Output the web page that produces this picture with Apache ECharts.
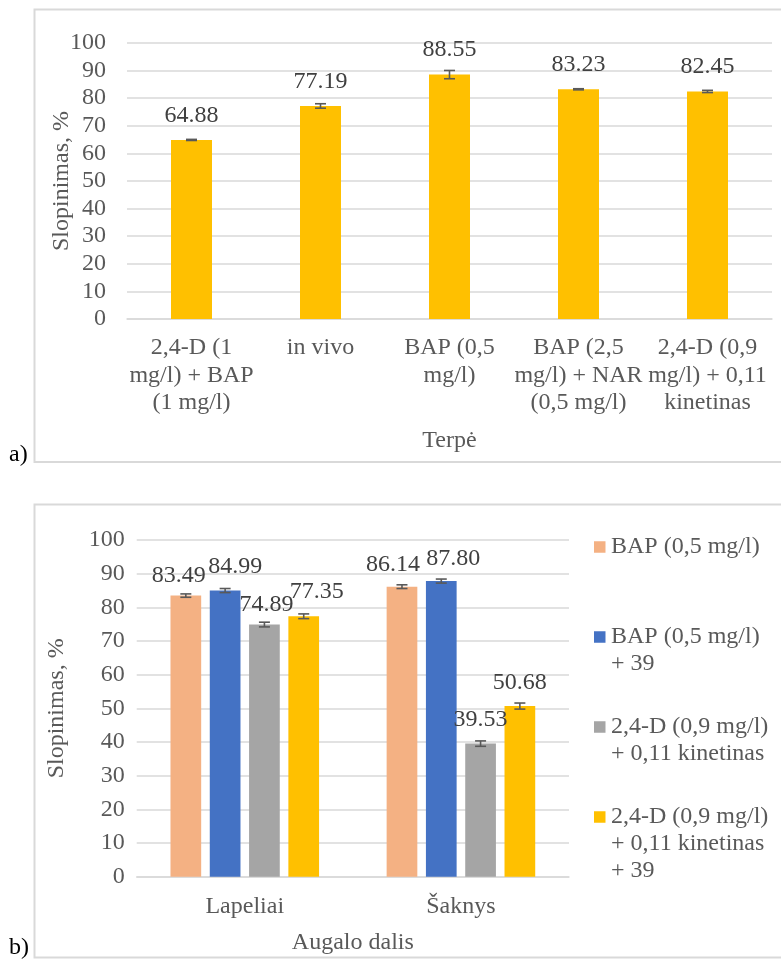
<!DOCTYPE html>
<html>
<head>
<meta charset="utf-8">
<script src="https://cdn.jsdelivr.net/npm/echarts@6/dist/echarts.min.js"></script>
<style>
  html, body { margin: 0; padding: 0; background: #fff; }
  #chart { width: 781px; height: 961px; }
</style>
</head>
<body>
<div id="chart"></div>
<script>
// (a) inhibition by culture medium
const categoriesA = [
  '2,4-D (1\nmg/l) + BAP\n(1 mg/l)',
  'in vivo',
  'BAP (0,5\nmg/l)',
  'BAP (2,5\nmg/l) + NAR\n(0,5 mg/l)',
  '2,4-D (0,9\nmg/l) + 0,11\nkinetinas'
];
const valuesA = [64.88, 77.19, 88.55, 83.23, 82.45];
const errorsA = [0.2, 0.8, 1.5, 0.2, 0.4];

// (b) inhibition by plant part
const categoriesB = ['Lapeliai', 'Šaknys'];
const seriesNamesB = [
  'BAP (0,5 mg/l)',
  'BAP (0,5 mg/l)\n+ 39',
  '2,4-D (0,9 mg/l)\n+ 0,11 kinetinas',
  '2,4-D (0,9 mg/l)\n+ 0,11 kinetinas\n+ 39'
];
const bapValues = [83.49, 86.14];
const bap39Values = [84.99, 87.80];
const dKinValues = [74.89, 39.53];
const dKin39Values = [77.35, 50.68];
const bapErrors = [0.5, 0.55];
const bap39Errors = [0.6, 0.6];
const dKinErrors = [0.7, 0.8];
const dKin39Errors = [0.7, 0.9];

const valuesB = [bapValues, bap39Values, dKinValues, dKin39Values];
const errorsB = [bapErrors, bap39Errors, dKinErrors, dKin39Errors];
const colorsB = ['#F4B183', '#4472C4', '#A5A5A5', '#FFC000'];

// label nudges so neighbouring value labels do not collide
const labelNudgeB = [
  [[-7, 2], [-9, 0]],
  [[10, -2], [12, 0]],
  [[2, 2.5], [0, -1.6]],
  [[13, -2.6], [0, -1.4]]
];

const FONT = '"Liberation Serif", "Times New Roman", serif';
const AXIS_TEXT = '#595959';
const GRID_LINE = '#D9D9D9';
const ERR_COLOR = '#595959';
const BAR_W_B = 30.7;
const BAR_GAP_B = 0.28;

function errorBarRenderer(offset) {
  return function (params, api) {
    const cat = api.value(0);
    const lo = api.coord([cat, api.value(1)]);
    const hi = api.coord([cat, api.value(2)]);
    const x = lo[0] + offset;
    const hw = 5.5;
    const st = { stroke: ERR_COLOR, lineWidth: 1.6 };
    return {
      type: 'group',
      children: [
        { type: 'line', shape: { x1: x, y1: lo[1], x2: x, y2: hi[1] }, style: st },
        { type: 'line', shape: { x1: x - hw, y1: lo[1], x2: x + hw, y2: lo[1] }, style: st },
        { type: 'line', shape: { x1: x - hw, y1: hi[1], x2: x + hw, y2: hi[1] }, style: st }
      ]
    };
  };
}

function valueAxis(gridIndex, margin, nameGap) {
  return {
    type: 'value', gridIndex: gridIndex, min: 0, max: 100, interval: 10,
    name: 'Slopinimas, %', nameLocation: 'middle', nameGap: nameGap, nameRotate: 90,
    nameMoveOverlap: false,
    nameTextStyle: { fontFamily: FONT, fontSize: 24, color: AXIS_TEXT },
    axisLine: { show: false }, axisTick: { show: false },
    axisLabel: { fontFamily: FONT, fontSize: 24, color: AXIS_TEXT, margin: margin },
    splitLine: { lineStyle: { color: GRID_LINE, width: 1.5 } }
  };
}

function categoryAxis(gridIndex, data, name, nameGap, margin, lineHeight) {
  return {
    type: 'category', gridIndex: gridIndex, data: data,
    name: name, nameLocation: 'middle', nameGap: nameGap,
    nameMoveOverlap: false,
    nameTextStyle: { fontFamily: FONT, fontSize: 24, color: AXIS_TEXT, verticalAlign: 'top', lineHeight: 24 },
    axisLine: { lineStyle: { color: GRID_LINE, width: 1.5 } },
    axisTick: { show: false },
    axisLabel: { interval: 0, fontFamily: FONT, fontSize: 24, color: AXIS_TEXT, margin: margin, lineHeight: lineHeight }
  };
}

const series = [];

// chart (a)
series.push({
  type: 'bar', name: 'Terpė', xAxisIndex: 0, yAxisIndex: 0,
  data: valuesA, barWidth: 41,
  itemStyle: { color: '#FFC000' },
  label: { show: true, position: 'top', distance: 12.5, fontFamily: FONT, fontSize: 24, lineHeight: 24, color: '#404040', formatter: p => p.value.toFixed(2) }
});
series.push({
  type: 'custom', xAxisIndex: 0, yAxisIndex: 0, z: 5, silent: true,
  renderItem: errorBarRenderer(0),
  data: valuesA.map((v, i) => [i, v - errorsA[i], v + errorsA[i]])
});

// chart (b)
seriesNamesB.forEach((name, s) => {
  series.push({
    type: 'bar', name: name, xAxisIndex: 1, yAxisIndex: 1,
    barWidth: BAR_W_B, barGap: (BAR_GAP_B * 100) + '%',
    itemStyle: { color: colorsB[s] },
    label: { show: true, position: 'top', distance: 10, fontFamily: FONT, fontSize: 24, lineHeight: 24, color: '#404040', formatter: p => p.value.toFixed(2) },
    data: valuesB[s].map((v, i) => ({ value: v, label: { offset: labelNudgeB[s][i] } }))
  });
});
seriesNamesB.forEach((name, s) => {
  const step = BAR_W_B * (1 + BAR_GAP_B);
  const offset = (s - (seriesNamesB.length - 1) / 2) * step;
  series.push({
    type: 'custom', xAxisIndex: 1, yAxisIndex: 1, z: 5, silent: true,
    renderItem: errorBarRenderer(offset),
    data: valuesB[s].map((v, i) => [i, v - errorsB[s][i], v + errorsB[s][i]])
  });
});

// legend text: coloured square on the first line, following lines indented
const legendRich = {
  t: { fontFamily: FONT, fontSize: 24, lineHeight: 27, color: AXIS_TEXT },
  sp: { width: 5.5 },
  ind: { width: 17 }
};
colorsB.forEach((c, i) => { legendRich['sq' + i] = { width: 11.5, height: 11.5, backgroundColor: c }; });

const chart = echarts.init(document.getElementById('chart'), null, { renderer: 'canvas' });
chart.setOption({
  animation: false,
  backgroundColor: '#fff',
  textStyle: { fontFamily: FONT },
  grid: [
    { left: 127, width: 645, top: 43, height: 276 },
    { left: 136.7, width: 432.3, top: 540, height: 336.7 }
  ],
  xAxis: [
    categoryAxis(0, categoriesA, 'Terpė', 110, 15, 27.5),
    categoryAxis(1, categoriesB, 'Augalo dalis', 54.5, 17, 27)
  ],
  yAxis: [
    valueAxis(0, 21, 53.5),
    valueAxis(1, 12, 67.7)
  ],
  legend: {
    data: seriesNamesB,
    orient: 'vertical', left: 589, top: 535, padding: 0, itemGap: 12,
    itemWidth: 0, itemHeight: 0, selectedMode: false,
    formatter: function (name) {
      const idx = seriesNamesB.indexOf(name);
      const lines = name.split('\n');
      while (lines.length < 3) lines.push(' ');
      return lines.map((ln, k) => (k === 0 ? '{sq' + idx + '|}{sp|}' : '{ind|}') + '{t|' + ln + '}').join('\n');
    },
    textStyle: { rich: legendRich }
  },
  graphic: [
    { type: 'rect', silent: true, shape: { x: 34.5, y: 9.5, width: 780, height: 452.5 }, style: { fill: 'none', stroke: GRID_LINE, lineWidth: 2 } },
    { type: 'rect', silent: true, shape: { x: 34.5, y: 504.5, width: 780, height: 453 }, style: { fill: 'none', stroke: GRID_LINE, lineWidth: 2 } },
    { type: 'text', left: 9, top: 443, style: { text: 'a)', font: '24px ' + FONT, fill: '#000' } },
    { type: 'text', left: 9, top: 936, style: { text: 'b)', font: '24px ' + FONT, fill: '#000' } }
  ],
  series: series
});
</script>
</body>
</html>
